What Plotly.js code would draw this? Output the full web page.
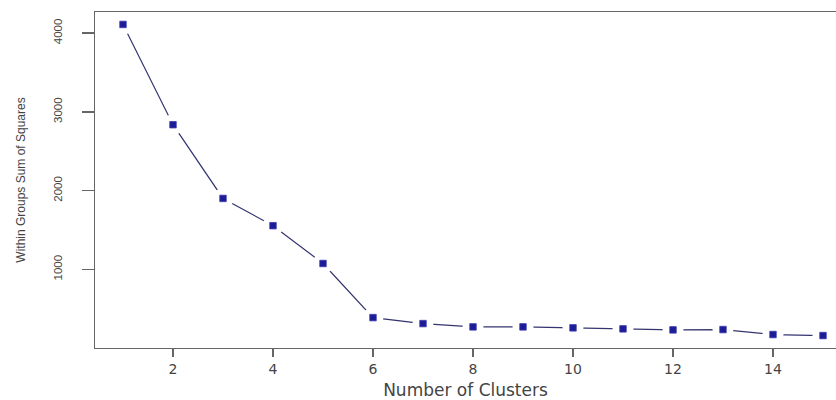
<!DOCTYPE html>
<html>
<head>
<meta charset="utf-8">
<script src="https://cdn.plot.ly/plotly-3.0.1.min.js"></script>
<style>html,body{margin:0;padding:0;background:#fff;}#chart{width:836px;height:400px;}</style>
</head>
<body>
<div id="chart"></div>
<script>
var clusters = [1, 2, 3, 4, 5, 6, 7, 8, 9, 10, 11, 12, 13, 14, 15];
var wss = [4110, 2837, 1901, 1555, 1075, 388, 312, 270, 270, 258, 245, 232, 236, 173, 160];
var xTicks = [2, 4, 6, 8, 10, 12, 14];
var yTicks = [1000, 2000, 3000, 4000];

var xRange = [0.44, 15.26];
var yRange = [2, 4268];

var lineTrace = {
  x: clusters, y: wss, type: 'scatter', mode: 'lines',
  line: {color: '#34346f', width: 1.2}, hoverinfo: 'skip', showlegend: false
};
var gapTrace = {
  x: clusters, y: wss, type: 'scatter', mode: 'markers',
  marker: {symbol: 'circle', size: 21, color: '#ffffff'},
  hoverinfo: 'skip', showlegend: false
};
var pointTrace = {
  x: clusters, y: wss, type: 'scatter', mode: 'markers',
  marker: {symbol: 'square', size: 6.5, color: '#1c1c96', line: {color: '#3a3ab0', width: 0.8}},
  showlegend: false
};

var layout = {
  width: 836, height: 400,
  margin: {l: 95, r: 0, t: 12, b: 52},
  paper_bgcolor: '#ffffff', plot_bgcolor: '#ffffff',
  showlegend: false,
  xaxis: {
    range: xRange, tickvals: xTicks, ticktext: xTicks.map(String),
    showgrid: false, zeroline: false,
    showline: true, mirror: true, linecolor: '#666', linewidth: 1.3,
    ticks: 'outside', ticklen: 8, tickcolor: '#666', tickwidth: 1.3,
    tickfont: {family: 'DejaVu Sans, Arial, sans-serif', size: 14, color: '#444'},
    title: {text: 'Number of Clusters', font: {family: 'DejaVu Sans, Arial, sans-serif', size: 17, color: '#444'}, standoff: 10}
  },
  yaxis: {
    range: yRange, tickvals: yTicks, ticktext: yTicks.map(String),
    showgrid: false, zeroline: false,
    showline: true, mirror: false, linecolor: '#666', linewidth: 1.3,
    ticks: 'outside', ticklen: 12, tickcolor: '#666', tickwidth: 1.3,
    tickangle: -90, ticklabelstandoff: 15,
    tickfont: {family: 'Liberation Sans, Arial, sans-serif', size: 11.5, color: '#444'},
    title: {text: 'Within Groups Sum of Squares', font: {family: 'Liberation Sans, Arial, sans-serif', size: 12, color: '#444'}, standoff: 24}
  }
};

Plotly.newPlot('chart', [lineTrace, gapTrace, pointTrace], layout, {displayModeBar: false, staticPlot: true});
</script>
</body>
</html>
